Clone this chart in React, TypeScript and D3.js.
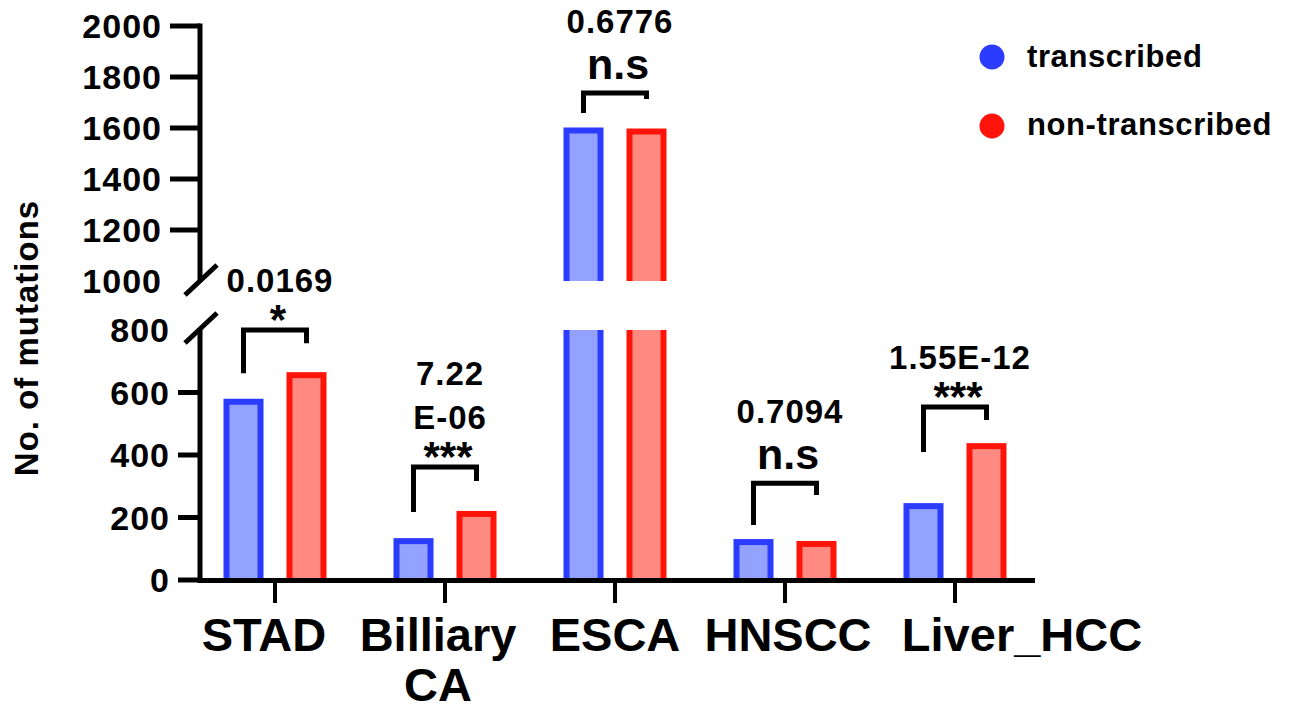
import React from 'react';
import * as d3 from 'd3';

const categories = ['STAD', 'Billiary CA', 'ESCA', 'HNSCC', 'Liver_HCC'];
const seriesNames = ['transcribed', 'non-transcribed'];
const transcribed = [580, 134, 1602, 131, 246];
const nonTranscribed = [665, 221, 1598, 125, 438];
const pValueLabels = [['0.0169'], ['7.22', 'E-06'], ['0.6776'], ['0.7094'], ['1.55E-12']];
const sigLabels = ['*', '***', 'n.s', 'n.s', '***'];
const bracketTop = [800, 362, 1737, 310, 554];
const bracketLeftEnd = [662, 218, 1659, 176, 410];
const bracketRightEnd = [758, 317, 1714, 272, 512];
const lowerTicks = [0, 200, 400, 600, 800];
const upperTicks = [1000, 1200, 1400, 1600, 1800, 2000];

const STROKE = ['#2b3cff', '#ff140a'];
const FILL = ['#94a2ff', '#ff8a82'];
const FONT = "'Liberation Sans', Arial, Helvetica, sans-serif";

export default function App() {
  const W = 1292;
  const H = 711;
  const axisX = 200;
  const yLow = d3.scaleLinear().domain([0, 800]).range([580, 330]);
  const yUp = d3.scaleLinear().domain([1000, 2000]).range([281, 26]);
  const yAny = (v: number) => (v <= 800 ? yLow(v) : yUp(v));
  const x = d3.scaleBand<string>().domain(categories).range([190, 1040]);
  const xs = d3.scaleBand<string>().domain(seriesNames).range([-51.5, 51.5]).paddingInner(0.365);
  const bw = xs.bandwidth();
  const cx = (c: string) => (x(c) as number) + x.bandwidth() / 2;
  const series = [transcribed, nonTranscribed];
  const labelDx = [-11, -7, 0, 3, 67];

  const bars: any[] = [];
  categories.forEach((c, i) => {
    series.forEach((vals, s) => {
      const v = vals[i];
      const left = cx(c) + (xs(seriesNames[s]) as number);
      const yl = yLow(v);
      bars.push(
        <g key={`l-${i}-${s}`} clipPath="url(#clipLow)">
          <rect x={left} y={yl} width={bw} height={580 - yl} fill={STROKE[s]} />
          <rect x={left + 6} y={yl + 6} width={bw - 12} height={Math.max(0, 580 - yl - 6)} fill={FILL[s]} />
        </g>
      );
      if (v > 1000) {
        const yu = yUp(v);
        bars.push(
          <g key={`u-${i}-${s}`} clipPath="url(#clipUp)">
            <rect x={left} y={yu} width={bw} height={300 - yu} fill={STROKE[s]} />
            <rect x={left + 6} y={yu + 6} width={bw - 12} height={300 - yu} fill={FILL[s]} />
          </g>
        );
      }
    });
  });

  return (
    <svg width={W} height={H} style={{ display: 'block', position: 'absolute', left: 0, top: 0 }} fontFamily={FONT} fontWeight="bold">
      <defs>
        <clipPath id="clipLow">
          <rect x={0} y={330} width={W} height={253} />
        </clipPath>
        <clipPath id="clipUp">
          <rect x={0} y={0} width={W} height={281} />
        </clipPath>
      </defs>
      <rect x={0} y={0} width={W} height={H} fill="#fff" />
      {bars}

      {/* Y axis, upper segment */}
      <line x1={axisX} x2={axisX} y1={yUp(2000) - 2.5} y2={yUp(1000)} stroke="#000" strokeWidth={5} />
      <line x1={185} y1={295} x2={217} y2={265} stroke="#000" strokeWidth={5} />
      {upperTicks.map((t) => (
        <g key={`ut${t}`}>
          {t > 1000 && <line x1={170} x2={axisX} y1={yUp(t)} y2={yUp(t)} stroke="#000" strokeWidth={5} />}
          <text x={162} y={yUp(t) + 12} textAnchor="end" fontSize={34} letterSpacing={1}>{t}</text>
        </g>
      ))}
      {/* Y axis, lower segment */}
      <line x1={axisX} x2={axisX} y1={yLow(800)} y2={583} stroke="#000" strokeWidth={5} />
      <line x1={185} y1={343} x2={217} y2={313} stroke="#000" strokeWidth={5} />
      {lowerTicks.map((t) => (
        <g key={`lt${t}`}>
          {t < 800 && <line x1={178} x2={axisX} y1={yLow(t)} y2={yLow(t)} stroke="#000" strokeWidth={5} />}
          <text x={170} y={yLow(t) + 12} textAnchor="end" fontSize={34} letterSpacing={1}>{t}</text>
        </g>
      ))}

      {/* X axis */}
      <line x1={axisX - 2.5} x2={1035} y1={580.5} y2={580.5} stroke="#000" strokeWidth={5} />
      {categories.map((c, i) => (
        <g key={`xc${i}`}>
          <line x1={cx(c)} x2={cx(c)} y1={583} y2={603} stroke="#000" strokeWidth={4} />
          {c.split(' ').map((ln, k) => (
            <text key={k} x={cx(c) + labelDx[i]} y={651 + k * 50} textAnchor="middle" fontSize={47}>{ln}</text>
          ))}
        </g>
      ))}

      {/* Y title */}
      <text transform={`translate(38,338) rotate(-90)`} textAnchor="middle" fontSize={33} letterSpacing={1}>No. of mutations</text>

      {/* Significance brackets */}
      {categories.map((c, i) => {
        const lx = cx(c) + (xs(seriesNames[0]) as number) + bw / 2;
        const rx = cx(c) + (xs(seriesNames[1]) as number) + bw / 2;
        const top = yAny(bracketTop[i]);
        const mid = (lx + rx) / 2;
        const ns = sigLabels[i] === 'n.s';
        const sigY = ns ? top - 14 : top + 4;
        const pBase = ns ? top - 60 : top - 38;
        const lines = pValueLabels[i];
        return (
          <g key={`br${i}`}>
            <path
              d={`M${lx},${yAny(bracketLeftEnd[i])} V${top} H${rx} V${yAny(bracketRightEnd[i])}`}
              fill="none"
              stroke="#000"
              strokeWidth={5}
              strokeLinejoin="miter"
            />
            <text x={mid + 3} y={sigY} textAnchor="middle" fontSize={ns ? 43 : 42}>{sigLabels[i]}</text>
            {lines.map((ln, k) => (
              <text key={k} x={mid + 5} y={pBase - (lines.length - 1 - k) * 44} textAnchor="middle" fontSize={33} letterSpacing={1}>{ln}</text>
            ))}
          </g>
        );
      })}

      {/* Legend */}
      {seriesNames.map((s, k) => (
        <g key={`lg${k}`}>
          <circle cx={992} cy={57 + k * 69} r={12.5} fill={STROKE[k]} />
          <text x={1027} y={67 + k * 68} fontSize={31} letterSpacing={0.6}>{s}</text>
        </g>
      ))}
    </svg>
  );
}
